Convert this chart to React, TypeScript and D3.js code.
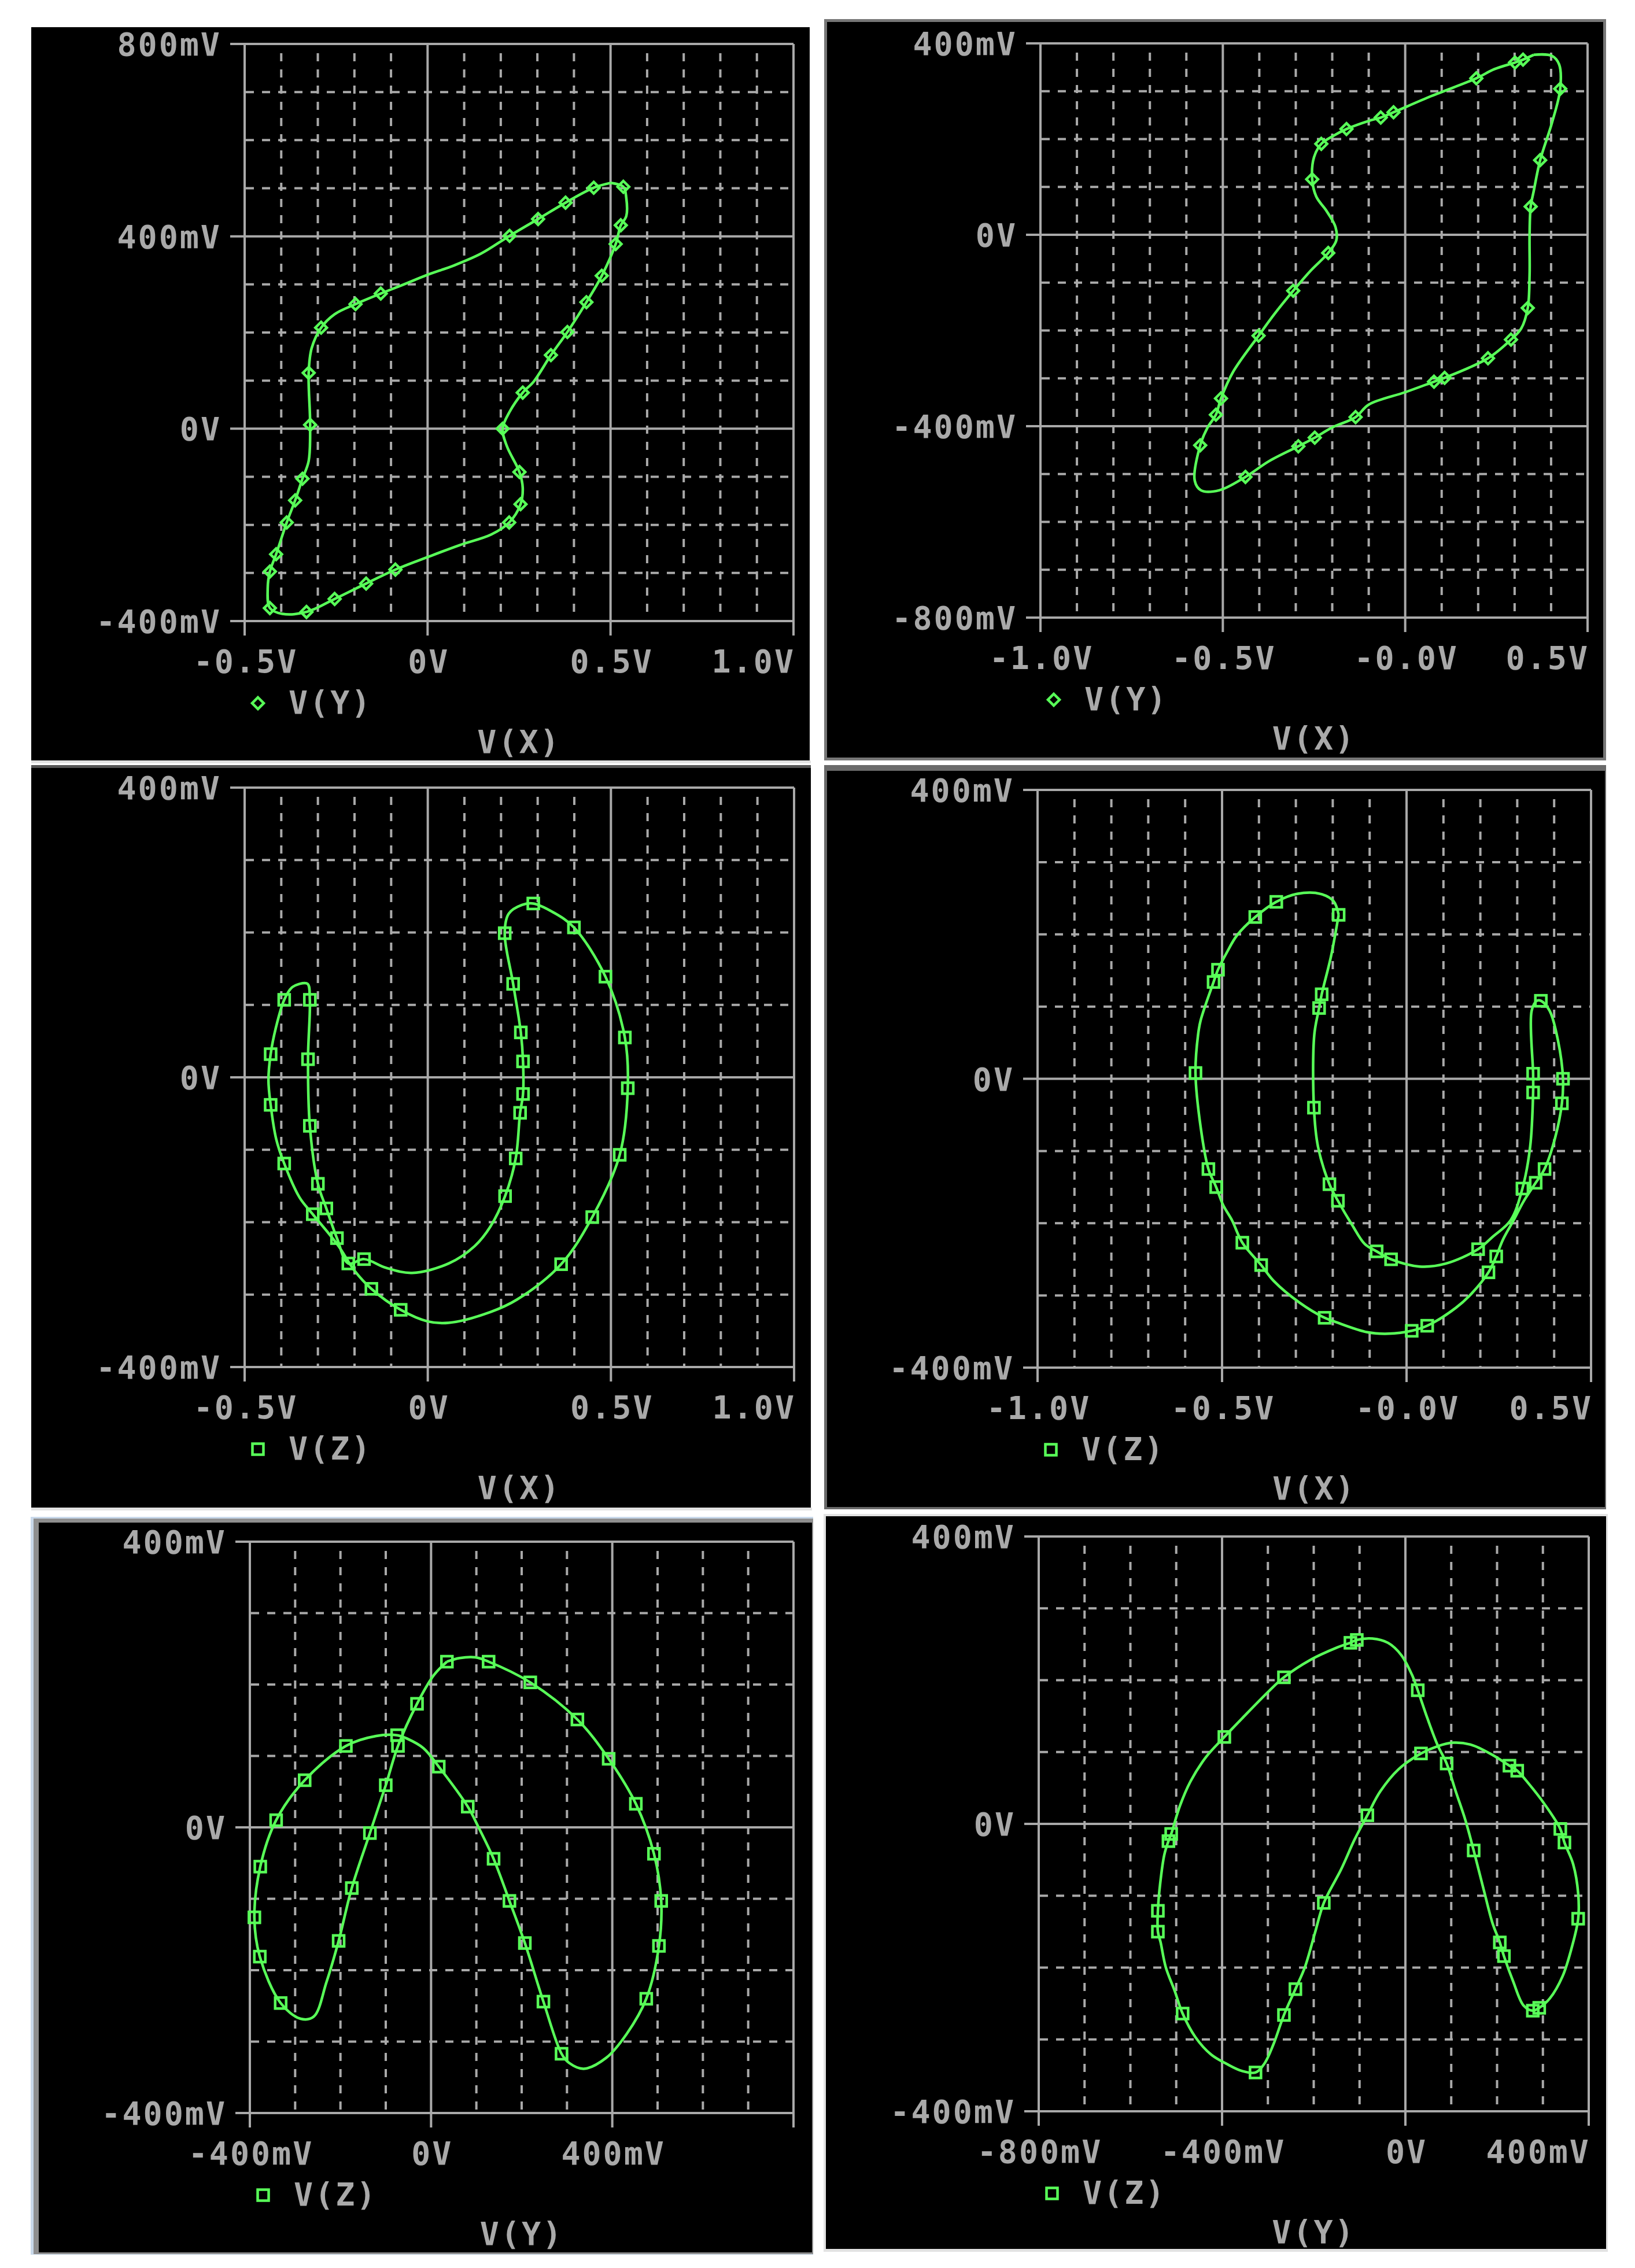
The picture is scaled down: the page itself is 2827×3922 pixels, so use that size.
import React from 'react';
import * as d3 from 'd3';

type Pt = [number, number, number]; // x (V), y (V), 1 = sample marker

// V(Y) against V(X), left column
const yxLeft: Pt[] = [
  [0.5, 0.511, 0], [0.535, 0.503, 1], [0.543, 0.48, 0], [0.543, 0.442, 0], [0.528, 0.423, 1],
  [0.514, 0.384, 1], [0.476, 0.318, 1], [0.434, 0.263, 1], [0.382, 0.201, 1], [0.337, 0.153, 1],
  [0.29, 0.098, 0], [0.26, 0.075, 1], [0.224, 0.035, 0], [0.205, 0.0, 1], [0.217, -0.037, 0],
  [0.251, -0.09, 1], [0.26, -0.123, 0], [0.254, -0.157, 1], [0.223, -0.195, 1], [0.174, -0.22, 0],
  [0.088, -0.242, 0], [0.0, -0.267, 0], [-0.088, -0.293, 1], [-0.168, -0.322, 1], [-0.254, -0.354, 1],
  [-0.331, -0.381, 1], [-0.397, -0.385, 0], [-0.431, -0.373, 1], [-0.437, -0.332, 0], [-0.431, -0.297, 1],
  [-0.414, -0.261, 1], [-0.385, -0.195, 1], [-0.362, -0.149, 1], [-0.342, -0.104, 1], [-0.325, -0.067, 0],
  [-0.321, 0.008, 1], [-0.325, 0.116, 1], [-0.317, 0.167, 0], [-0.291, 0.21, 1], [-0.254, 0.238, 0],
  [-0.197, 0.259, 1], [-0.128, 0.281, 1], [-0.068, 0.299, 0], [0.0, 0.32, 0], [0.074, 0.34, 0],
  [0.146, 0.364, 0], [0.224, 0.401, 1], [0.302, 0.436, 1], [0.377, 0.47, 1], [0.454, 0.501, 1],
  [0.5, 0.511, 0],
];

// V(Y) against V(X), right column
const yxRight: Pt[] = [
  [0.352, 0.376, 0], [0.402, 0.374, 0], [0.422, 0.356, 0], [0.425, 0.305, 1], [0.402, 0.233, 0],
  [0.37, 0.156, 1], [0.352, 0.09, 0], [0.344, 0.059, 1], [0.341, 0.0, 0], [0.341, -0.084, 0],
  [0.336, -0.153, 1], [0.318, -0.196, 0], [0.29, -0.219, 1], [0.227, -0.258, 1], [0.108, -0.299, 1],
  [0.079, -0.307, 1], [0.0, -0.329, 0], [-0.1, -0.355, 0], [-0.136, -0.381, 1], [-0.201, -0.403, 0],
  [-0.248, -0.424, 1], [-0.293, -0.442, 1], [-0.373, -0.473, 0], [-0.438, -0.506, 1], [-0.51, -0.534, 0],
  [-0.56, -0.534, 0], [-0.577, -0.514, 0], [-0.562, -0.44, 1], [-0.542, -0.403, 0], [-0.519, -0.376, 1],
  [-0.505, -0.342, 1], [-0.473, -0.288, 0], [-0.402, -0.211, 1], [-0.359, -0.166, 0], [-0.307, -0.117, 1],
  [-0.258, -0.074, 0], [-0.211, -0.038, 1], [-0.189, -0.012, 0], [-0.191, 0.016, 0], [-0.215, 0.049, 0],
  [-0.244, 0.08, 0], [-0.255, 0.116, 1], [-0.25, 0.162, 0], [-0.23, 0.19, 1], [-0.201, 0.205, 0],
  [-0.161, 0.221, 1], [-0.1, 0.238, 0], [-0.067, 0.245, 1], [-0.032, 0.256, 1], [0.072, 0.29, 0],
  [0.195, 0.327, 1], [0.244, 0.346, 0], [0.301, 0.36, 1], [0.323, 0.366, 1], [0.352, 0.376, 0],
];

// V(Z) against V(X), left column
const zxLeft: Pt[] = [
  [-0.35, 0.129, 0], [-0.328, 0.129, 0], [-0.322, 0.107, 1], [-0.327, 0.025, 1], [-0.322, -0.067, 1],
  [-0.3, -0.147, 1], [-0.277, -0.181, 1], [-0.248, -0.222, 1], [-0.217, -0.257, 1], [-0.174, -0.251, 1],
  [-0.114, -0.263, 0], [-0.043, -0.27, 0], [0.057, -0.257, 0], [0.128, -0.233, 0], [0.171, -0.206, 0],
  [0.211, -0.164, 1], [0.24, -0.112, 1], [0.252, -0.049, 1], [0.26, -0.023, 1], [0.26, 0.022, 1],
  [0.254, 0.062, 1], [0.233, 0.129, 1], [0.21, 0.199, 1], [0.221, 0.226, 0], [0.257, 0.238, 0],
  [0.288, 0.24, 1], [0.342, 0.228, 0], [0.399, 0.207, 1], [0.485, 0.139, 1], [0.538, 0.055, 1],
  [0.546, -0.015, 1], [0.524, -0.107, 1], [0.449, -0.193, 1], [0.364, -0.258, 1], [0.243, -0.307, 0],
  [0.171, -0.324, 0], [0.057, -0.339, 0], [0.0, -0.337, 0], [-0.074, -0.321, 1], [-0.154, -0.292, 1],
  [-0.2, -0.267, 0], [-0.245, -0.232, 0], [-0.314, -0.189, 1], [-0.35, -0.166, 0], [-0.392, -0.119, 1],
  [-0.414, -0.085, 0], [-0.429, -0.038, 1], [-0.435, -0.004, 0], [-0.429, 0.032, 1], [-0.414, 0.07, 0],
  [-0.392, 0.107, 1], [-0.371, 0.124, 0], [-0.35, 0.129, 0],
];

// V(Z) against V(X), right column
const zxRight: Pt[] = [
  [-0.184, 0.227, 1], [-0.205, 0.169, 0], [-0.23, 0.117, 1], [-0.237, 0.098, 1], [-0.25, 0.061, 0],
  [-0.251, -0.04, 1], [-0.24, -0.094, 0], [-0.209, -0.146, 1], [-0.186, -0.169, 1], [-0.148, -0.202, 0],
  [-0.113, -0.229, 0], [-0.081, -0.239, 1], [-0.042, -0.25, 1], [0.035, -0.26, 0], [0.106, -0.256, 0],
  [0.194, -0.236, 1], [0.233, -0.219, 0], [0.282, -0.196, 0], [0.314, -0.152, 1], [0.335, -0.094, 0],
  [0.343, -0.019, 1], [0.343, 0.007, 1], [0.339, 0.094, 0], [0.353, 0.108, 0], [0.364, 0.108, 1],
  [0.388, 0.094, 0], [0.41, 0.054, 0], [0.424, 0.0, 1], [0.421, -0.034, 1], [0.403, -0.081, 0],
  [0.374, -0.125, 1], [0.35, -0.144, 1], [0.318, -0.169, 0], [0.29, -0.196, 0], [0.261, -0.223, 0],
  [0.243, -0.246, 1], [0.222, -0.268, 1], [0.177, -0.297, 0], [0.134, -0.317, 0], [0.056, -0.342, 1],
  [0.014, -0.349, 1], [-0.049, -0.353, 0], [-0.106, -0.351, 0], [-0.191, -0.337, 0], [-0.222, -0.331, 1],
  [-0.29, -0.31, 0], [-0.36, -0.28, 0], [-0.394, -0.258, 1], [-0.445, -0.227, 1], [-0.473, -0.196, 0],
  [-0.497, -0.175, 0], [-0.516, -0.15, 1], [-0.537, -0.125, 1], [-0.558, -0.067, 0], [-0.572, 0.008, 1],
  [-0.565, 0.061, 0], [-0.558, 0.081, 0], [-0.523, 0.134, 1], [-0.511, 0.151, 1], [-0.487, 0.175, 0],
  [-0.459, 0.199, 0], [-0.41, 0.224, 1], [-0.353, 0.245, 1], [-0.297, 0.256, 0], [-0.233, 0.256, 0],
  [-0.198, 0.246, 0], [-0.184, 0.227, 0],
];

// V(Z) against V(Y), left column
const zyLeft: Pt[] = [
  [0.035, 0.232, 1], [0.063, 0.237, 0], [0.098, 0.238, 0], [0.127, 0.232, 1], [0.219, 0.203, 1],
  [0.323, 0.151, 1], [0.392, 0.096, 1], [0.452, 0.033, 1], [0.492, -0.037, 1], [0.508, -0.103, 1],
  [0.503, -0.166, 1], [0.475, -0.24, 1], [0.432, -0.289, 0], [0.386, -0.323, 0], [0.337, -0.338, 0],
  [0.305, -0.33, 0], [0.288, -0.317, 1], [0.248, -0.244, 1], [0.207, -0.162, 1], [0.173, -0.103, 1],
  [0.138, -0.044, 1], [0.104, 0.001, 0], [0.081, 0.029, 1], [0.017, 0.085, 1], [-0.017, 0.111, 0],
  [-0.052, 0.124, 0], [-0.075, 0.129, 1], [-0.121, 0.128, 0], [-0.188, 0.114, 1], [-0.279, 0.066, 1],
  [-0.342, 0.01, 1], [-0.377, -0.055, 1], [-0.39, -0.126, 1], [-0.378, -0.181, 1], [-0.332, -0.246, 1],
  [-0.288, -0.268, 0], [-0.259, -0.265, 0], [-0.231, -0.217, 0], [-0.204, -0.159, 1], [-0.175, -0.085, 1],
  [-0.135, -0.008, 1], [-0.1, 0.059, 1], [-0.073, 0.114, 1], [-0.031, 0.173, 1], [0.006, 0.213, 0],
  [0.035, 0.232, 0],
];

// V(Z) against V(Y), right column
const zyRight: Pt[] = [
  [-0.12, 0.252, 1], [-0.106, 0.256, 1], [-0.072, 0.258, 0], [-0.038, 0.252, 0], [-0.009, 0.235, 0],
  [0.014, 0.208, 0], [0.027, 0.186, 1], [0.048, 0.147, 0], [0.07, 0.11, 0], [0.09, 0.084, 1],
  [0.11, 0.045, 0], [0.131, 0.005, 0], [0.149, -0.037, 1], [0.173, -0.097, 0], [0.19, -0.138, 0],
  [0.206, -0.165, 1], [0.215, -0.184, 1], [0.235, -0.219, 0], [0.258, -0.253, 0], [0.278, -0.26, 1],
  [0.292, -0.256, 1], [0.315, -0.243, 0], [0.343, -0.212, 0], [0.363, -0.172, 0], [0.377, -0.132, 1],
  [0.377, -0.097, 0], [0.366, -0.056, 0], [0.347, -0.026, 1], [0.338, -0.007, 1], [0.303, 0.028, 0],
  [0.269, 0.056, 0], [0.244, 0.074, 1], [0.227, 0.081, 1], [0.19, 0.096, 0], [0.144, 0.11, 0],
  [0.105, 0.113, 0], [0.07, 0.108, 0], [0.034, 0.098, 1], [-0.015, 0.076, 0], [-0.055, 0.045, 0],
  [-0.083, 0.012, 1], [-0.111, -0.022, 0], [-0.14, -0.063, 0], [-0.178, -0.11, 1], [-0.197, -0.151, 0],
  [-0.219, -0.199, 0], [-0.24, -0.23, 1], [-0.265, -0.266, 1], [-0.288, -0.307, 0], [-0.308, -0.334, 0],
  [-0.327, -0.346, 1], [-0.356, -0.344, 0], [-0.39, -0.334, 0], [-0.424, -0.321, 0], [-0.458, -0.297, 0],
  [-0.486, -0.264, 1], [-0.503, -0.233, 0], [-0.523, -0.199, 0], [-0.534, -0.165, 0], [-0.54, -0.15, 1],
  [-0.54, -0.121, 1], [-0.535, -0.083, 0], [-0.526, -0.043, 0], [-0.517, -0.024, 1], [-0.511, -0.014, 1],
  [-0.492, 0.025, 0], [-0.469, 0.059, 0], [-0.435, 0.093, 0], [-0.395, 0.121, 1], [-0.356, 0.147, 0],
  [-0.299, 0.184, 0], [-0.265, 0.204, 1], [-0.208, 0.228, 0], [-0.151, 0.245, 0], [-0.12, 0.252, 0],
];

// axis ticks and their labels
const xTicksPos = [-0.5, 0, 0.5, 1.0];
const xLabelsPos = ['-0.5V', '0V', '0.5V', '1.0V'];
const xTicksNeg = [-1.0, -0.5, 0, 0.5];
const xLabelsNeg = ['-1.0V', '-0.5V', '-0.0V', '0.5V'];
const xTicksYl = [-0.4, 0, 0.4, 0.8];
const xLabelsYl = ['-400mV', '0V', '400mV', ''];
const xTicksYr = [-0.8, -0.4, 0, 0.4];
const xLabelsYr = ['-800mV', '-400mV', '0V', '400mV'];
const yTicksUp = [-0.4, 0, 0.4, 0.8];
const yLabelsUp = ['-400mV', '0V', '400mV', '800mV'];
const yTicksDown = [-0.8, -0.4, 0, 0.4];
const yLabelsDown = ['-800mV', '-400mV', '0V', '400mV'];
const yTicksSym = [-0.4, 0, 0.4];
const yLabelsSym = ['-400mV', '0V', '400mV'];

const GRID = '#a9a9a9';
const GREEN = '#58ff58';
const FONT = '"DejaVu Sans Mono", monospace';

type PanelCfg = {
  bg: number[];
  plot: { l: number; r: number; t: number; b: number };
  xTicks: number[];
  xLabels: string[];
  yTicks: number[];
  yLabels: string[];
  data: Pt[];
  marker: 'diamond' | 'square';
  legend: string;
  title: string;
};

const panels: PanelCfg[] = [
  { bg: [54, 47, 1400, 1315], plot: { l: 423, r: 1372, t: 76, b: 1074 }, xTicks: xTicksPos, xLabels: xLabelsPos,
    yTicks: yTicksUp, yLabels: yLabelsUp, data: yxLeft, marker: 'diamond', legend: 'V(Y)', title: 'V(X)' },
  { bg: [1430, 38, 2772, 1310], plot: { l: 1799, r: 2745, t: 75, b: 1068 }, xTicks: xTicksNeg, xLabels: xLabelsNeg,
    yTicks: yTicksDown, yLabels: yLabelsDown, data: yxRight, marker: 'diamond', legend: 'V(Y)', title: 'V(X)' },
  { bg: [54, 1328, 1402, 2607], plot: { l: 423, r: 1373, t: 1362, b: 2364 }, xTicks: xTicksPos, xLabels: xLabelsPos,
    yTicks: yTicksSym, yLabels: yLabelsSym, data: zxLeft, marker: 'square', legend: 'V(Z)', title: 'V(X)' },
  { bg: [1430, 1333, 2775, 2606], plot: { l: 1794, r: 2751, t: 1366, b: 2365 }, xTicks: xTicksNeg, xLabels: xLabelsNeg,
    yTicks: yTicksSym, yLabels: yLabelsSym, data: zxRight, marker: 'square', legend: 'V(Z)', title: 'V(X)' },
  { bg: [67, 2633, 1404, 3895], plot: { l: 432, r: 1372, t: 2666, b: 3654 }, xTicks: xTicksYl, xLabels: xLabelsYl,
    yTicks: yTicksSym, yLabels: yLabelsSym, data: zyLeft, marker: 'square', legend: 'V(Z)', title: 'V(Y)' },
  { bg: [1428, 2622, 2777, 3889], plot: { l: 1796, r: 2747, t: 2657, b: 3651 }, xTicks: xTicksYr, xLabels: xLabelsYr,
    yTicks: yTicksSym, yLabels: yLabelsSym, data: zyRight, marker: 'square', legend: 'V(Z)', title: 'V(Y)' },
];

function minorSteps(ticks: number[]) {
  const lo = Math.round(ticks[0] * 10);
  const hi = Math.round(ticks[ticks.length - 1] * 10);
  return d3.range(lo, hi + 1).map((v) => v / 10).filter((v) => !ticks.some((t) => Math.abs(t - v) < 1e-6));
}

function Marker({ kind, cx, cy }: { kind: string; cx: number; cy: number }) {
  if (kind === 'diamond') {
    const h = 10;
    return (
      <path d={`M${cx},${cy - h}L${cx + h},${cy}L${cx},${cy + h}L${cx - h},${cy}Z`}
        fill="none" stroke={GREEN} strokeWidth={4.5} />
    );
  }
  const s = 9.5;
  return <rect x={cx - s} y={cy - s} width={2 * s} height={2 * s} fill="none" stroke={GREEN} strokeWidth={4.5} />;
}

function Panel({ p }: { p: PanelCfg }) {
  const { l, r, t, b } = p.plot;
  const xMax = p.xTicks[p.xTicks.length - 1];
  const x = d3.scaleLinear().domain([p.xTicks[0], xMax]).range([l, r]);
  const y = d3.scaleLinear().domain([p.yTicks[0], p.yTicks[p.yTicks.length - 1]]).range([b, t]);
  const line = d3.line<Pt>().x((d) => x(d[0])).y((d) => y(d[1])).curve(d3.curveCatmullRom.alpha(0.5));
  const [bx0, by0, bx1, by1] = p.bg;
  const txt = { fill: GRID, fontFamily: FONT, fontWeight: 700, fontSize: 55, letterSpacing: 3 } as const;

  return (
    <g>
      <rect x={bx0} y={by0} width={bx1 - bx0} height={by1 - by0} fill="#000" />
      {minorSteps(p.xTicks).map((v) => (
        <line key={'vx' + v} x1={x(v)} x2={x(v)} y1={t + 16} y2={b} stroke={GRID} strokeWidth={4} strokeDasharray="14 14" />
      ))}
      {minorSteps(p.yTicks).map((v) => (
        <line key={'hy' + v} x1={l + 2} x2={r} y1={y(v)} y2={y(v)} stroke={GRID} strokeWidth={4} strokeDasharray="14 14" />
      ))}
      {p.xTicks.map((v) => (
        <line key={'mx' + v} x1={x(v)} x2={x(v)} y1={t} y2={b + 25} stroke={GRID} strokeWidth={4} />
      ))}
      {p.yTicks.map((v) => (
        <line key={'my' + v} x1={l - 25} x2={r} y1={y(v)} y2={y(v)} stroke={GRID} strokeWidth={4} />
      ))}
      <path d={line(p.data) || ''} fill="none" stroke={GREEN} strokeWidth={4.5} strokeLinejoin="round" />
      {p.data.filter((d) => d[2] === 1).map((d, i) => (
        <Marker key={i} kind={p.marker} cx={x(d[0])} cy={y(d[1])} />
      ))}
      {p.yTicks.map((v, i) => (
        <text key={'yl' + v} x={l - 40} y={y(v) + 20} textAnchor="end" {...txt}>{p.yLabels[i]}</text>
      ))}
      {p.xTicks.map((v, i) => (
        <text key={'xl' + v} x={v === xMax ? r + 3 : x(v) + 2} y={b + 89} textAnchor={v === xMax ? 'end' : 'middle'} {...txt}>
          {p.xLabels[i]}
        </text>
      ))}
      <Marker kind={p.marker} cx={l + 23} cy={b + 142} />
      <text x={l + 76} y={b + 160} {...txt}>{p.legend}</text>
      <text x={(l + r) / 2} y={b + 228} textAnchor="middle" {...txt}>{p.title}</text>
    </g>
  );
}

export default function App() {
  return (
    <svg width={2827} height={3922} style={{ position: 'absolute', left: 0, top: 0, background: '#fff' }}>
      <rect x={0} y={0} width={2827} height={3922} fill="#fff" />
      {/* window frames around the screenshots */}
      <rect x={1425} y={33} width={1352} height={1282} fill="#777" />
      <rect x={1425} y={1323} width={1352} height={1287} fill="#6a6a6a" />
      <rect x={53} y={2623} width={1353} height={1276} fill="#c9d9ea" />
      <rect x={58} y={2626} width={1348} height={1272} fill="#8f8f8f" />
      <rect x={1424} y={2618} width={1356} height={1276} fill="#e2e2e2" />
      <rect x={54} y={1315} width={1348} height={5} fill="#e2e2e2" />
      <rect x={54} y={1323} width={1348} height={5} fill="#555" />
      <rect x={54} y={2607} width={1350} height={5} fill="#e2e2e2" />
      {panels.map((p, i) => (
        <Panel key={i} p={p} />
      ))}
    </svg>
  );
}
